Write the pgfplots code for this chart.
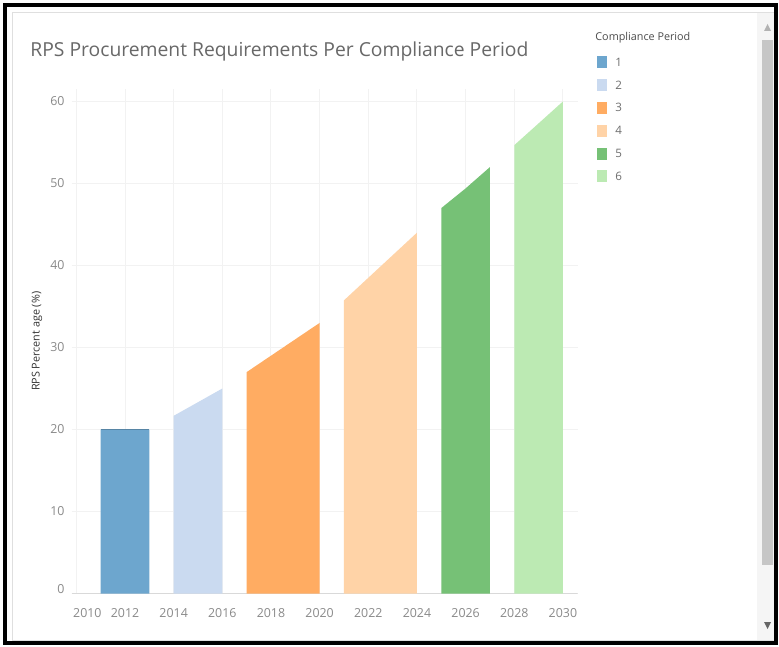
\documentclass[border=0pt]{standalone}
\usepackage{pgfplots}
\pgfplotsset{compat=1.18}
\usepackage{fontspec}
\setmainfont{Open Sans}
\definecolor{cpA}{HTML}{6DA6CE}
\definecolor{cpB}{HTML}{CADAF0}
\definecolor{cpC}{HTML}{FFAC62}
\definecolor{cpD}{HTML}{FFD3A7}
\definecolor{cpE}{HTML}{76C176}
\definecolor{cpF}{HTML}{BCEAB3}
\definecolor{gridc}{HTML}{F2F2F2}
\definecolor{tickc}{HTML}{8A8A8A}
\definecolor{titlec}{HTML}{686868}
\begin{document}
\begin{tikzpicture}
\begin{scope}[x=0.5pt,y=-0.5pt]
\useasboundingbox (0,0) rectangle (779,646);
\fill[white] (0,0) rectangle (779,646);
% scrollbar
\fill[gray!8] (757,13) rectangle (775,640);
\fill[gray!45] (762,40) rectangle (773,565);
\fill[gray!60] (764,31) -- (771,31) -- (767.5,24) -- cycle;
\fill[gray!80!black] (764,622) -- (771,622) -- (767.5,629) -- cycle;
% panel
\draw[gray!25, line width=0.5pt] (12,13) rectangle (775,640);
\draw[black, line width=1.6pt] (5,5) rectangle (776,643);
% title
\node[anchor=west, inner sep=0pt, text=titlec, font=\fontsize{9.65}{12}\selectfont] at (30,51) {RPS Procurement Requirements Per Compliance Period};
\node[anchor=west, inner sep=0pt, text=black!70, font=\fontsize{5.4}{6}\selectfont] at (595,38) {Compliance Period};
\end{scope}
\begin{axis}[
  at={(35.75pt,-296.75pt)}, anchor=south west,
  scale only axis, width=253pt, height=252.15pt,
  xmin=2009.8, xmax=2030.6, ymin=0, ymax=61.5,
  xtick={2010,2012,...,2030},
  xticklabels={\hspace*{11pt}2010,2012,2014,2016,2018,2020,2022,2024,2026,2028,2030},
  ytick={0,10,...,60},
  yticklabels={\raisebox{5pt}{0},10,20,30,40,50,60},
  major tick length=0pt,
  grid=major, grid style={gridc, line width=0.5pt},
  axis line style={draw=none},
  tick label style={text=tickc, font=\fontsize{6.2}{7}\selectfont},
  /pgf/number format/assume math mode=true,
  xticklabel style={yshift=-4pt},
  ylabel={RPS Percent age (\%)},
  ylabel style={at={(axis description cs:-0.068,0.5)}, anchor=center, text=black!80, font=\fontsize{5.4}{6}\selectfont},
  legend style={at={(axis description cs:1.0385,1.066)}, anchor=north west, draw=none, fill=none, inner sep=0pt, row sep=5.4pt, column sep=4pt, font=\fontsize{5.8}{6}\selectfont, text=tickc!80!black, nodes={inner sep=0pt, text height=5pt, text depth=1pt}},
  legend cell align=left,
  legend image code/.code={\fill[#1, draw=none] (0pt,-3pt) rectangle (5pt,3pt);},
]
\draw[gray!30, line width=0.6pt] (axis cs:2009.8,0) -- (axis cs:2030.6,0);
\addplot[fill=cpA, draw=none] coordinates {(2011,20) (2012,20) (2013,20)} \closedcycle;
\addlegendentry{1}
\addplot[fill=cpB, draw=none] coordinates {(2014,21.67) (2015,23.33) (2016,25)} \closedcycle;
\addlegendentry{2}
\addplot[fill=cpC, draw=none] coordinates {(2017,27) (2018,29) (2019,31) (2020,33)} \closedcycle;
\addlegendentry{3}
\addplot[fill=cpD, draw=none] coordinates {(2021,35.75) (2022,38.5) (2023,41.25) (2024,44)} \closedcycle;
\addlegendentry{4}
\addplot[fill=cpE, draw=none] coordinates {(2025,47.0) (2026,49.4) (2027,52)} \closedcycle;
\addlegendentry{5}
\addplot[fill=cpF, draw=none] coordinates {(2028,54.67) (2029,57.33) (2030,60)} \closedcycle;
\addlegendentry{6}
\draw[cpA!80!black, line width=0.5pt] (axis cs:2011,20) -- (axis cs:2013,20);
\end{axis}
\end{tikzpicture}
\end{document}
